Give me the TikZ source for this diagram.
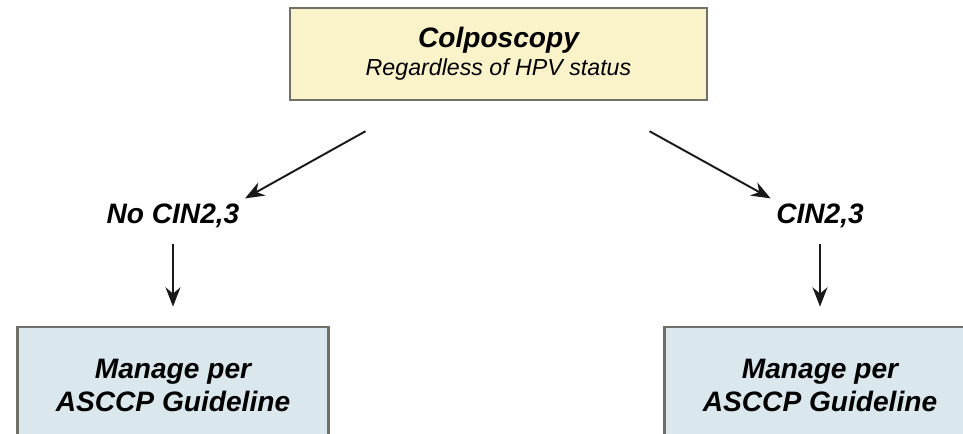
\documentclass[tikz,border=0pt]{standalone}
\usepackage{fontspec}
\setmainfont{Liberation Sans}
\usetikzlibrary{positioning, calc, arrows.meta}
\definecolor{boxyellow}{RGB}{250,243,202}
\definecolor{boxblue}{RGB}{218,232,238}
\definecolor{boxedge}{RGB}{112,112,104}
\definecolor{arrowgray}{RGB}{25,25,25}

\begin{document}
\begin{tikzpicture}[
        x=0.02cm, y=-0.02cm,
        topbox/.style={rectangle, draw=boxedge, fill=boxyellow, line width=1.4pt,
                       minimum width=8.34cm, minimum height=1.84cm, align=center},
        mgmt/.style={rectangle, draw=boxedge, fill=boxblue, line width=1.2pt,
                     minimum width=6.22cm, minimum height=2.32cm, align=center,
                     font=\fontsize{16}{18.8}\selectfont\bfseries\itshape},
        result/.style={font=\fontsize{16}{18.8}\selectfont\bfseries\itshape, inner sep=3pt},
        flow/.style={-{Stealth[length=11pt, width=8.5pt]}, line width=1.1pt, arrowgray},
    ]
    \useasboundingbox (0,0) rectangle (963,433);
    \clip (0,0) rectangle (963,433);

    % ===== Top: colposcopy =====
    \node[topbox] (colpo) at (498.5,54)
        {{\fontsize{16}{18.8}\selectfont\bfseries\itshape Colposcopy}\\[2pt]
         {\fontsize{13.2}{15}\selectfont\itshape Regardless of HPV status}};

    % ===== Outcomes =====
    \node[result] (nocin) at (173,216) {No CIN2,3};
    \node[result] (cin)   at (820,216) {CIN2,3};

    % ===== Management boxes (cut off at the bottom) =====
    \node[mgmt] (mgmtL) at (173,385) {Manage per\\ASCCP Guideline};
    \node[mgmt] (mgmtR) at (820,385) {Manage per\\ASCCP Guideline};

    % Arrows
    \coordinate (splitL) at ($(colpo.south)+(-133,30)$);
    \coordinate (splitR) at ($(colpo.south)+(151,30)$);
    \draw[flow] (splitL) -- (nocin.north east);
    \draw[flow] (splitR) -- (cin.north west);
    \draw[flow, shorten <=6pt, shorten >=11pt] (nocin.south) -- (mgmtL.north);
    \draw[flow, shorten <=6pt, shorten >=11pt] (cin.south) -- (mgmtR.north);

    \end{tikzpicture}
\end{document}
